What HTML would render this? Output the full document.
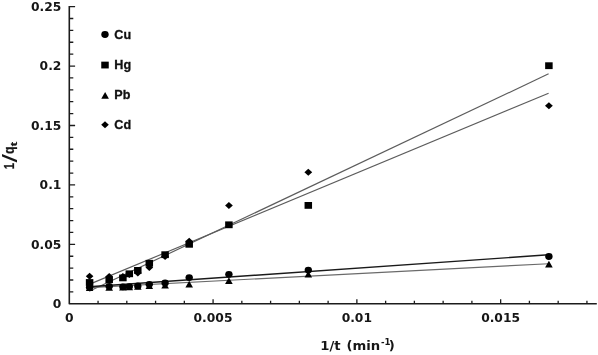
<!DOCTYPE html>
<html lang="en">
<head>
<meta charset="utf-8">
<title>1/qt versus 1/t</title>
<style>
html,body{margin:0;padding:0;background:#fff;}
body{width:598px;height:355px;overflow:hidden;}
svg{display:block;filter:blur(0.35px);}
.tk{font-family:"DejaVu Sans","Liberation Sans",sans-serif;font-weight:bold;font-size:12.3px;fill:#161616;}
.lg{font-family:"Liberation Sans","DejaVu Sans",sans-serif;font-weight:bold;font-size:12.6px;fill:#111;stroke:#111;stroke-width:0.3px;}
.ax{font-family:"DejaVu Sans","Liberation Sans",sans-serif;font-weight:bold;font-size:12.6px;fill:#161616;}
.ay{font-family:"Liberation Sans","DejaVu Sans",sans-serif;font-weight:bold;font-size:14.4px;fill:#161616;stroke:#161616;stroke-width:0.25px;}
</style>
</head>
<body>
<svg width="598" height="355" viewBox="0 0 598 355">
<rect width="598" height="355" fill="#fff"/>

<g stroke="#1c1c1c" stroke-width="1.6" fill="none" stroke-linecap="butt" stroke-linejoin="round">
<path d="M69.3 5.95V303.8H596.8"/>
</g>
<g stroke="#1c1c1c" stroke-width="1.3" fill="none">
<path d="M69.3 291.91h4.0M69.3 280.02h4.0M69.3 268.14h4.0M69.3 256.25h4.0M69.3 244.36h5.8M69.3 232.47h4.0M69.3 220.58h4.0M69.3 208.70h4.0M69.3 196.81h4.0M69.3 184.92h5.8M69.3 173.03h4.0M69.3 161.14h4.0M69.3 149.26h4.0M69.3 137.37h4.0M69.3 125.48h5.8M69.3 113.59h4.0M69.3 101.70h4.0M69.3 89.82h4.0M69.3 77.93h4.0M69.3 66.04h5.8M69.3 54.15h4.0M69.3 42.26h4.0M69.3 30.38h4.0M69.3 18.49h4.0M69.3 6.60h5.8"/>
<path d="M98.06 303.8v-3.1M126.81 303.8v-3.1M155.57 303.8v-3.1M184.33 303.8v-3.1M213.08 303.8v-4.6M241.84 303.8v-3.1M270.60 303.8v-3.1M299.36 303.8v-3.1M328.11 303.8v-3.1M356.87 303.8v-4.6M385.63 303.8v-3.1M414.38 303.8v-3.1M443.14 303.8v-3.1M471.90 303.8v-3.1M500.65 303.8v-4.6M529.41 303.8v-3.1M558.17 303.8v-3.1M586.93 303.8v-3.1"/>
</g>
<g fill="none">
<path d="M89.2 291.33L548.6 73.85" stroke="#5c5c5c" stroke-width="1.15"/>
<path d="M89.2 284.37L548.6 93.26" stroke="#5c5c5c" stroke-width="1.15"/>
<path d="M89.2 287.61L548.6 263.68" stroke="#6a6a6a" stroke-width="1.1"/>
<path d="M89.2 286.78L548.6 254.80" stroke="#1a1a1a" stroke-width="1.4"/>
</g>
<g fill="#000">
<ellipse cx="89.6" cy="287.3" rx="3.7" ry="3.4"/>
<ellipse cx="109.2" cy="286.3" rx="3.7" ry="3.4"/>
<ellipse cx="122.9" cy="286.8" rx="3.7" ry="3.4"/>
<ellipse cx="129.3" cy="286.6" rx="3.7" ry="3.4"/>
<ellipse cx="137.8" cy="285.9" rx="3.7" ry="3.4"/>
<ellipse cx="149.3" cy="284.3" rx="3.7" ry="3.4"/>
<ellipse cx="165.1" cy="283.0" rx="3.7" ry="3.4"/>
<ellipse cx="189.2" cy="277.6" rx="3.7" ry="3.4"/>
<ellipse cx="228.9" cy="274.3" rx="3.7" ry="3.4"/>
<ellipse cx="308.3" cy="270.1" rx="3.7" ry="3.4"/>
<ellipse cx="548.9" cy="256.5" rx="3.7" ry="3.4"/>
<rect x="85.85" y="279.10" width="7.5" height="6.8"/>
<rect x="105.45" y="276.30" width="7.5" height="6.8"/>
<rect x="119.15" y="274.50" width="7.5" height="6.8"/>
<rect x="125.55" y="270.40" width="7.5" height="6.8"/>
<rect x="134.05" y="267.00" width="7.5" height="6.8"/>
<rect x="145.55" y="259.90" width="7.5" height="6.8"/>
<rect x="161.35" y="251.30" width="7.5" height="6.8"/>
<rect x="185.45" y="240.90" width="7.5" height="6.8"/>
<rect x="225.15" y="221.40" width="7.5" height="6.8"/>
<rect x="304.55" y="202.00" width="7.5" height="6.8"/>
<rect x="545.15" y="62.30" width="7.5" height="6.8"/>
<path d="M89.6 284.2L93.4 290.9H85.8Z"/>
<path d="M109.2 284.0L113.0 290.7H105.4Z"/>
<path d="M122.9 283.8L126.7 290.5H119.1Z"/>
<path d="M129.3 283.6L133.1 290.3H125.5Z"/>
<path d="M137.8 283.1L141.6 289.8H134.0Z"/>
<path d="M149.3 282.4L153.1 289.1H145.5Z"/>
<path d="M165.1 281.9L168.9 288.6H161.3Z"/>
<path d="M189.2 280.8L193.0 287.5H185.4Z"/>
<path d="M228.9 277.2L232.7 283.9H225.1Z"/>
<path d="M308.3 270.8L312.1 277.5H304.5Z"/>
<path d="M548.9 260.7L552.7 267.4H545.1Z"/>
<path d="M89.6 272.7L93.4 276.2L89.6 279.7L85.8 276.2Z"/>
<path d="M109.2 273.1L113.0 276.6L109.2 280.1L105.4 276.6Z"/>
<path d="M122.9 273.1L126.8 276.6L122.9 280.1L119.1 276.6Z"/>
<path d="M129.3 270.9L133.2 274.4L129.3 277.9L125.5 274.4Z"/>
<path d="M137.8 269.6L141.7 273.1L137.8 276.6L134.0 273.1Z"/>
<path d="M149.3 264.0L153.2 267.5L149.3 271.0L145.5 267.5Z"/>
<path d="M165.1 252.9L168.9 256.4L165.1 259.9L161.2 256.4Z"/>
<path d="M189.2 237.7L193.0 241.2L189.2 244.7L185.3 241.2Z"/>
<path d="M228.9 201.9L232.8 205.4L228.9 208.9L225.1 205.4Z"/>
<path d="M308.3 168.7L312.2 172.2L308.3 175.7L304.4 172.2Z"/>
<path d="M548.9 102.3L552.8 105.8L548.9 109.3L545.0 105.8Z"/>
<ellipse cx="105.0" cy="34.5" rx="3.7" ry="3.4"/>
<rect x="101.25" y="61.65" width="7.5" height="6.8"/>
<path d="M105.1 92.0L108.9 98.7H101.3Z"/>
<path d="M105.0 121.2L108.8 124.7L105.0 128.2L101.2 124.7Z"/>
</g>
<text class="lg" x="114.3" y="39.3">Cu</text>
<text class="lg" x="114.3" y="69.3">Hg</text>
<text class="lg" x="114.3" y="99.3">Pb</text>
<text class="lg" x="114.3" y="129.3">Cd</text>
<text class="tk" x="61.4" y="10.8" text-anchor="end">0.25</text>
<text class="tk" x="61.4" y="70.2" text-anchor="end">0.2</text>
<text class="tk" x="61.4" y="129.7" text-anchor="end">0.15</text>
<text class="tk" x="61.4" y="189.1" text-anchor="end">0.1</text>
<text class="tk" x="61.4" y="248.6" text-anchor="end">0.05</text>
<text class="tk" x="61.4" y="308.0" text-anchor="end">0</text>
<text class="tk" x="69.2" y="321.9" text-anchor="middle">0</text>
<text class="tk" x="213.0" y="321.9" text-anchor="middle">0.005</text>
<text class="tk" x="356.8" y="321.9" text-anchor="middle">0.01</text>
<text class="tk" x="500.6" y="321.9" text-anchor="middle">0.015</text>
<text class="ax" transform="translate(320.3 350.35) scale(1.05 1)"><tspan>1/t</tspan><tspan dx="1.2"> (min</tspan><tspan dx="0.6" dy="-5.1" font-size="8.2px">-1</tspan><tspan dx="-1.6" dy="5.1">)</tspan></text>
<g transform="translate(13.8 167.9) rotate(-90)">
<text class="ay"><tspan x="-1.3" textLength="6.2" lengthAdjust="spacingAndGlyphs">1</tspan><tspan x="5.3" dy="3" font-size="21px" font-weight="normal" stroke-width="0" textLength="8.4" lengthAdjust="spacingAndGlyphs">/</tspan><tspan x="13.8" dy="-3" textLength="7.6" lengthAdjust="spacingAndGlyphs">q</tspan><tspan x="21.6" dy="3.2" font-size="8.6px" textLength="4.4" lengthAdjust="spacingAndGlyphs">t</tspan></text>
</g>
</svg>
</body>
</html>
